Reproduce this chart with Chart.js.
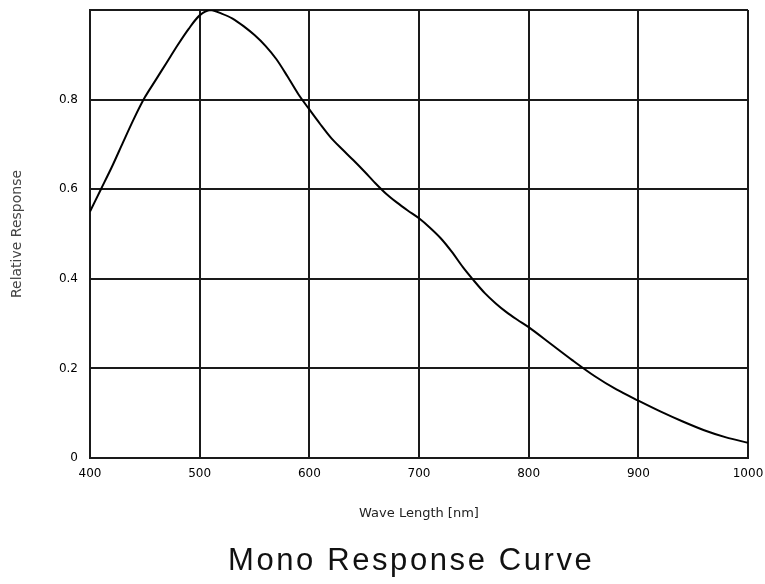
<!DOCTYPE html>
<html>
<head>
<meta charset="utf-8">
<script src="https://cdn.jsdelivr.net/npm/chart.js@4/dist/chart.umd.min.js"></script>
<style>
  html, body { margin:0; padding:0; background:#fff; }
  #wrap { position:relative; width:765px; height:584px; }
  #caption {
    position:absolute; left:228px; top:544px;
    font: 31px/31px "Liberation Sans", Arial, sans-serif;
    letter-spacing: 2.6px; color:#111; white-space:nowrap;
  }
</style>
</head>
<body>
<div id="wrap">
  <canvas id="chartCanvas" width="765" height="584"></canvas>
  <div id="caption">Mono Response Curve</div>
</div>
<script>
// wavelength in nm, relative response (0..1)
const wavelengths = [400,410,420,430,440,450,460,470,480,490,500,510,520,530,540,550,560,570,580,590,
                     600,610,620,630,640,650,660,670,680,690,700,710,720,730,740,750,760,770,780,790,
                     800,820,840,860,880,900,920,940,960,980,1000];
const response = [0.55,0.60,0.65,0.704,0.757,0.805,0.844,0.883,0.922,0.958,0.988,1.0,0.992,0.981,0.964,0.944,0.92,0.89,0.852,0.812,
                  0.778,0.745,0.714,0.689,0.665,0.64,0.614,0.59,0.57,0.552,0.535,0.514,0.49,0.46,0.426,0.396,0.368,0.345,0.325,0.308,
                  0.292,0.255,0.218,0.183,0.153,0.128,0.104,0.082,0.062,0.046,0.034];
const xTicks = [400,500,600,700,800,900,1000];
const yTicks = [0,0.2,0.4,0.6,0.8,1];

const gridColor = '#1a1a1a';
const tickFont = { family: 'DejaVu Sans', size: 12 };

new Chart(document.getElementById('chartCanvas'), {
  type: 'line',
  data: {
    datasets: [{
      label: 'Mono',
      data: wavelengths.map((w,i) => ({ x: w, y: response[i] })),
      borderColor: '#000',
      borderWidth: 2,
      pointRadius: 0,
      tension: 0.3,
      fill: false
    }]
  },
  options: {
    responsive: false,
    animation: false,
    layout: { padding: { left: 0, right: 17, top: 10, bottom: 63 } },
    plugins: {
      legend: { display: false },
      tooltip: { enabled: false }
    },
    scales: {
      x: {
        type: 'linear',
        min: 400, max: 1000,
        afterBuildTicks: s => { s.ticks = xTicks.map(v => ({ value: v })); },
        afterFit: s => { s.height = 63; s.paddingLeft = 0; s.paddingRight = 0; },
        grid: { color: gridColor, lineWidth: 2, drawTicks: false },
        border: { color: gridColor, width: 2 },
        ticks: {
          color: '#000',
          padding: 9,
          maxRotation: 0,
          font: tickFont,
          callback: v => String(v)
        },
        title: {
          display: true,
          text: 'Wave Length [nm]',
          color: '#222',
          font: { family: 'DejaVu Sans', size: 13 },
          padding: { top: 0, bottom: 0 }
        }
      },
      y: {
        min: 0, max: 1,
        afterBuildTicks: s => { s.ticks = yTicks.map(v => ({ value: v })); },
        afterFit: s => { s.width = 90; s.paddingTop = 0; s.paddingBottom = 0; },
        grid: { color: gridColor, lineWidth: 2, drawTicks: false },
        border: { color: gridColor, width: 2 },
        ticks: {
          color: '#000',
          padding: 12,
          font: tickFont,
          callback: v => (v === 1 ? '' : String(v))
        },
        title: {
          display: true,
          text: 'Relative Response',
          color: '#444',
          font: { family: 'DejaVu Sans', size: 14 },
          padding: { top: 9, bottom: 0 }
        }
      }
    }
  }
});
</script>
</body>
</html>
